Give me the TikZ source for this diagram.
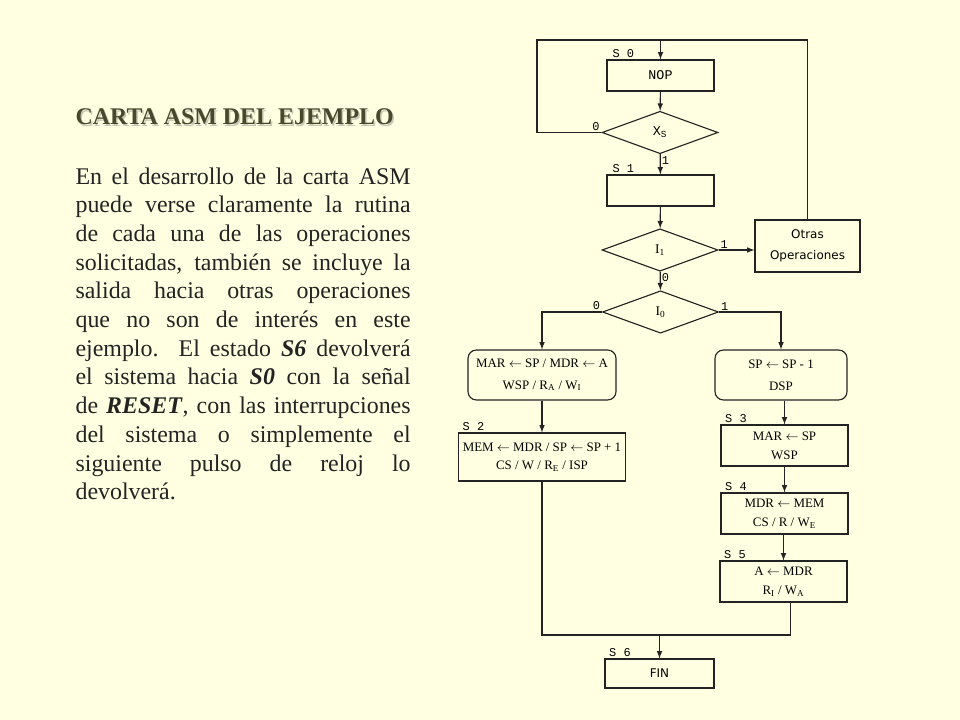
\documentclass[tikz,border=0pt]{standalone}
\usepackage{fontspec}
\setmainfont{Liberation Serif}
\newfontfamily\monof{Liberation Mono}
\newfontfamily\sansf{DejaVu Sans}
\usepackage{tikz}
\usetikzlibrary{shapes,arrows,positioning}
\definecolor{bg}{RGB}{255,255,225}
\definecolor{ink}{RGB}{35,35,35}
\definecolor{ttl}{RGB}{72,72,45}
\definecolor{ttlsh}{RGB}{200,200,180}

\begin{document}
\begin{tikzpicture}[x=0.025cm, y=-0.025cm, >=latex, line width=0.8pt,
	stbox/.style={draw=ink, rectangle, inner sep=0pt, align=center, font=\fontsize{9.2}{13.5}\selectfont},
	opbox/.style={stbox, rounded corners=6pt, font=\fontsize{9.2}{15.5}\selectfont},
	cond/.style={draw=ink, diamond, inner sep=0pt, minimum width=2.9cm, minimum height=1.06cm, font=\fontsize{9.5}{11}\selectfont},
	slbl/.style={anchor=south west, inner sep=1pt, font=\monof\fontsize{8.5}{10}\selectfont},
	blbl/.style={inner sep=1pt, font=\monof\fontsize{8.5}{10}\selectfont}]
	\fill[bg] (0,0) rectangle (960,720);
	\useasboundingbox (0,0) rectangle (960,720);
	% texto
	\node[anchor=base west, inner sep=0pt, text=ttlsh, font=\fontsize{17}{19}\selectfont\bfseries] at (76.5,126.5) {CARTA ASM DEL EJEMPLO};
	\node[anchor=base west, inner sep=0pt, text=ttl, font=\fontsize{17}{19}\selectfont\bfseries] (tit) at (75,125) {CARTA ASM DEL EJEMPLO};
	\node[anchor=north west, inner sep=0pt, text width=8.375cm, align=justify, text=ink, font=\fontsize{17}{20.4}\selectfont] (par) at (75,167) {\tolerance=10000\hyphenpenalty=10000
		En el desarrollo de la carta ASM\linebreak puede verse claramente la rutina\linebreak de cada una de las operaciones\linebreak solicitadas, también se incluye la\linebreak salida hacia otras operaciones\linebreak que no son de interés en este\linebreak ejemplo.\ \ El estado \textbf{\textit{S6}} devolverá\linebreak el sistema hacia \textbf{\textit{S0}} con la señal\linebreak de \textbf{\textit{RESET}}, con las interrupciones\linebreak del sistema o simplemente el\linebreak siguiente pulso de reloj lo\linebreak devolverá.};
	% carta ASM
	\node[stbox, minimum width=2.675cm, minimum height=0.775cm, font=\monof\fontsize{9.5}{11}\selectfont] (nop) at (660.5,75.5) {NOP};
	\node[cond, font=\monof\fontsize{9.5}{11}\selectfont] (xs) at (660,132.5) {X\textsubscript{S}};
	\node[stbox, minimum width=2.675cm, minimum height=0.775cm] (s1) at (660.5,190.5) {};
	\node[cond] (i1) at (660,250) {I\textsubscript{1}};
	\node[stbox, minimum width=2.625cm, minimum height=1.3cm, font=\sansf\fontsize{8.5}{15}\selectfont] (otras) at (807.5,246) {Otras\\Operaciones};
	\node[cond] (i0) at (660.5,312) {I\textsubscript{0}};
	\node[opbox, minimum width=3.7cm, minimum height=1.25cm] (opa) at (542,375) {MAR $\leftarrow$ SP / MDR $\leftarrow$ A\\WSP / R\textsubscript{A} / W\textsubscript{I}};
	\node[opbox, minimum width=3.3cm, minimum height=1.25cm] (opb) at (781,375) {SP $\leftarrow$ SP - 1\\DSP};
	\node[stbox, minimum width=4.175cm, minimum height=1.2cm] (s2) at (542,457) {MEM $\leftarrow$ MDR / SP $\leftarrow$ SP + 1\\CS / W / R\textsubscript{E} / ISP};
	\node[stbox, minimum width=3.175cm, minimum height=1.025cm] (s3) at (784.5,445.5) {MAR $\leftarrow$ SP\\WSP};
	\node[stbox, minimum width=3.175cm, minimum height=1.025cm] (s4) at (784.5,513.5) {MDR $\leftarrow$ MEM\\CS / R / W\textsubscript{E}};
	\node[stbox, minimum width=3.175cm, minimum height=1.025cm] (s5) at (783.5,581.5) {A $\leftarrow$ MDR\\R\textsubscript{I} / W\textsubscript{A}};
	\node[stbox, minimum width=2.725cm, minimum height=0.725cm, font=\sansf\fontsize{8.5}{10}\selectfont] (fin) at (659.5,673.5) {FIN};
	% estados
	\node[slbl] at ([xshift=3]nop.north west) {S 0};
	\node[slbl] at ([xshift=3]s1.north west) {S 1};
	\node[slbl] at ([xshift=2]s2.north west) {S 2};
	\node[slbl] at ([xshift=2]s3.north west) {S 3};
	\node[slbl] at ([xshift=2]s4.north west) {S 4};
	\node[slbl] at ([xshift=2]s5.north west) {S 5};
	\node[slbl] at ([xshift=2]fin.north west) {S 6};
	% ramas
	\coordinate (top) at (537,40);
	\coordinate (join) at (659.5,635);
	\draw[->, draw=ink] (xs.west) -- (top |- xs.west) -- (top) -| (nop.north);
	\draw[draw=ink] (otras.north) -- (otras.north |- top) -- (nop.north |- top);
	\draw[->, draw=ink] (nop) -- (xs);
	\draw[->, draw=ink] (xs) -- (s1);
	\draw[->, draw=ink] (s1) -- (i1);
	\draw[->, draw=ink] (i1.east) -- (otras.west |- i1.east);
	\draw[->, draw=ink] (i1) -- (i0);
	\draw[->, draw=ink] (i0.west) -| (opa.north);
	\draw[->, draw=ink] (i0.east) -| (opb.north);
	\draw[->, draw=ink] (opa) -- (s2);
	\draw[->, draw=ink] (opb.south -| s3.north) -- (s3.north);
	\draw[->, draw=ink] (s3) -- (s4);
	\draw[->, draw=ink] (s4.south -| s5.north) -- (s5.north);
	\draw[draw=ink] (s2.south) |- (join) -| ([xshift=5]s5.south);
	\draw[->, draw=ink] (join) -- (fin.north);
	\node[blbl, anchor=south east] at (xs.west) {0};
	\node[blbl, anchor=north west] at (xs.south) {1};
	\node[blbl, anchor=south west] at (i1.east) {1};
	\node[blbl, anchor=north west] at (i1.south) {0};
	\node[blbl, anchor=south east] at (i0.west) {0};
	\node[blbl, anchor=south west] at (i0.east) {1};
\end{tikzpicture}
\end{document}
